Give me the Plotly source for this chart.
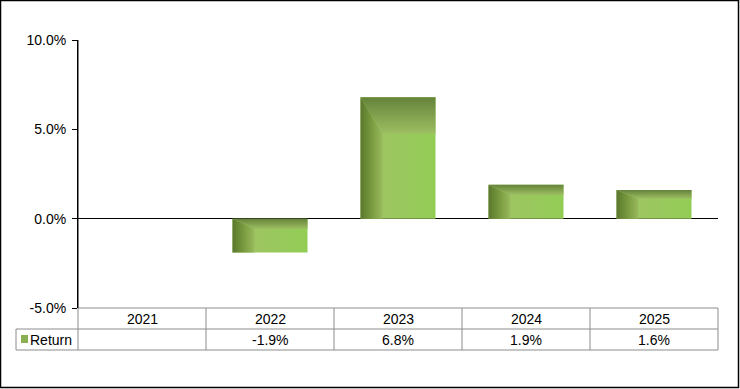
import plotly.graph_objects as go

categories = ["2021", "2022", "2023", "2024", "2025"]
returns = [None, -1.9, 6.8, 1.9, 1.6]
value_labels = ["", "-1.9%", "6.8%", "1.9%", "1.6%"]
series_name = "Return"
y_ticks = [-5, 0, 5, 10]

W, H = 740, 389
L, R, T, B = 78, 718, 40, 308
PW, PH = R - L, B - T
ROW = 21

def px(x):
    return (x - L) / PW

def py(y):
    return (B - y) / PH

fig = go.Figure()
half = 0.293
bev_x = 0.17
for i, v in enumerate(returns):
    if v is None:
        continue
    x0, x1 = i - half, i + half
    top, bot = max(0, v), min(0, v)
    bh = (top - bot) * 0.3
    # front face
    fig.add_trace(go.Scatter(
        x=[x0, x1, x1, x0, x0], y=[top, top, bot, bot, top], mode="lines",
        fill="toself", line=dict(width=0), hoverinfo="skip", showlegend=False,
        fillgradient=dict(type="horizontal",
                          colorscale=[[0, "#a2c166"], [1, "#92cd55"]])))
    # left face
    fig.add_trace(go.Scatter(
        x=[x0, x0 + bev_x, x0 + bev_x, x0, x0], y=[top, top - bh, bot, bot, top],
        mode="lines", fill="toself", line=dict(width=0), hoverinfo="skip",
        showlegend=False,
        fillgradient=dict(type="horizontal",
                          colorscale=[[0, "#5a772d"], [0.5, "#78993f"], [1, "#98ba5c"]])))
    # top face
    fig.add_trace(go.Scatter(
        x=[x0, x1, x1, x0 + bev_x, x0], y=[top, top, top - bh, top - bh, top],
        mode="lines", fill="toself", line=dict(width=0), hoverinfo="skip",
        showlegend=False,
        fillgradient=dict(type="vertical",
                          colorscale=[[0, "#9dbe62"], [1, "#65833a"]])))

shapes = []
grid = "#8c8c8c"
n = len(categories)
col_w = PW / n
left_cell = 16
shapes.append(dict(type="line", xref="paper", yref="paper", x0=px(L), x1=px(R),
                   y0=py(B), y1=py(B), line=dict(color=grid, width=1)))
for yy in (B + ROW, B + 2 * ROW):
    shapes.append(dict(type="line", xref="paper", yref="paper", x0=px(left_cell), x1=px(R),
                       y0=py(yy), y1=py(yy), line=dict(color=grid, width=1)))
for k in range(n + 1):
    xx = L + k * col_w
    shapes.append(dict(type="line", xref="paper", yref="paper", x0=px(xx), x1=px(xx),
                       y0=py(B), y1=py(B + 2 * ROW), line=dict(color=grid, width=1)))
shapes.append(dict(type="line", xref="paper", yref="paper", x0=px(left_cell), x1=px(left_cell),
                   y0=py(B + ROW), y1=py(B + 2 * ROW), line=dict(color=grid, width=1)))
shapes.append(dict(type="line", xref="paper", yref="paper", x0=0, x1=0,
                   y0=0, y1=1, line=dict(color="black", width=1)))
shapes.append(dict(type="rect", xref="paper", yref="paper", x0=px(21), x1=px(28),
                   y0=py(343), y1=py(335), fillcolor="#8bb052", line=dict(width=0)))
shapes.append(dict(type="rect", xref="paper", yref="paper", x0=px(0.5), x1=px(W - 1.5),
                   y0=py(H - 1.5), y1=py(0.5), line=dict(color="black", width=1.5)))

font = dict(family="Arial, Liberation Sans, sans-serif", size=14, color="black")
annotations = []
for k, c in enumerate(categories):
    cx = L + (k + 0.5) * col_w
    annotations.append(dict(xref="paper", yref="paper", x=px(cx), y=py(B + ROW / 2 + 0.5),
                            text=c, showarrow=False, font=font, xanchor="center", yanchor="middle"))
    annotations.append(dict(xref="paper", yref="paper", x=px(cx), y=py(B + 1.5 * ROW + 0.5),
                            text=value_labels[k], showarrow=False, font=font,
                            xanchor="center", yanchor="middle"))
annotations.append(dict(xref="paper", yref="paper", x=px(30), y=py(B + 1.5 * ROW + 0.5),
                        text=series_name, showarrow=False, font=font,
                        xanchor="left", yanchor="middle", xshift=-2))

fig.update_layout(
    width=W, height=H,
    margin=dict(l=L, r=W - R, t=T, b=H - B, pad=0),
    paper_bgcolor="white", plot_bgcolor="white",
    showlegend=False,
    xaxis=dict(range=[-0.5, n - 0.5], visible=False, fixedrange=True),
    yaxis=dict(range=[-5, 10], tickvals=y_ticks,
               ticktext=[f"{t:.1f}%" for t in y_ticks],
               showgrid=False, zeroline=True, zerolinecolor="black", zerolinewidth=1,
               showline=True, linecolor="black", linewidth=1,
               ticks="outside", ticklen=5, tickcolor="black",
               ticklabelstandoff=3,
               tickfont=font, fixedrange=True),
    shapes=shapes, annotations=annotations,
)

fig.write_html("out.html", config={"displayModeBar": False},
               post_script="document.body.style.margin='0';document.body.style.overflow='hidden';")
